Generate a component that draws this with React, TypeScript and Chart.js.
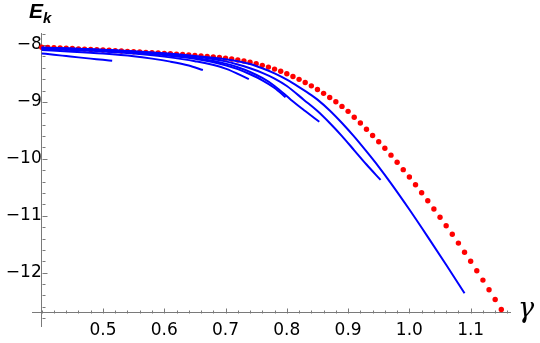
import { useEffect, useRef } from "react";
import { Chart, registerables } from "chart.js";

Chart.register(...registerables);

// Red dotted reference curve (gamma step 0.01)
const redGamma = [
  0.40, 0.41, 0.42, 0.43, 0.44, 0.45, 0.46, 0.47, 0.48, 0.49,
  0.50, 0.51, 0.52, 0.53, 0.54, 0.55, 0.56, 0.57, 0.58, 0.59,
  0.60, 0.61, 0.62, 0.63, 0.64, 0.65, 0.66, 0.67, 0.68, 0.69,
  0.70, 0.71, 0.72, 0.73, 0.74, 0.75, 0.76, 0.77, 0.78, 0.79,
  0.80, 0.81, 0.82, 0.83, 0.84, 0.85, 0.86, 0.87, 0.88, 0.89,
  0.90, 0.91, 0.92, 0.93, 0.94, 0.95, 0.96, 0.97, 0.98, 0.99,
  1.00, 1.01, 1.02, 1.03, 1.04, 1.05, 1.06, 1.07, 1.08, 1.09,
  1.10, 1.11, 1.12, 1.13, 1.14, 1.15,
];
const redEnergy = [
  -8.040, -8.044, -8.048, -8.053, -8.058, -8.063, -8.068, -8.073, -8.078, -8.083,
  -8.088, -8.094, -8.100, -8.106, -8.112, -8.118, -8.124, -8.130, -8.136, -8.142,
  -8.148, -8.154, -8.161, -8.168, -8.175, -8.183, -8.191, -8.200, -8.209, -8.220,
  -8.232, -8.247, -8.264, -8.283, -8.305, -8.330, -8.358, -8.389, -8.424, -8.463,
  -8.506, -8.553, -8.604, -8.659, -8.718, -8.782, -8.850, -8.922, -8.998, -9.079,
  -9.166, -9.270, -9.370, -9.480, -9.590, -9.700, -9.815, -9.935, -10.06, -10.19,
  -10.32, -10.455, -10.595, -10.735, -10.88, -11.025, -11.175, -11.325, -11.48, -11.64,
  -11.80, -11.965, -12.13, -12.30, -12.47, -12.645,
];

// Blue curves
const gammaA = [0.40, 0.42, 0.44, 0.46, 0.48, 0.50, 0.515];
const energyA = [-8.148, -8.172, -8.195, -8.218, -8.240, -8.261, -8.278];

const gammaB = [0.40, 0.45, 0.50, 0.55, 0.58, 0.61, 0.64, 0.663];
const energyB = [-8.09, -8.118, -8.152, -8.198, -8.240, -8.293, -8.362, -8.44];

const gammaC = [0.40, 0.45, 0.50, 0.55, 0.60, 0.65, 0.70, 0.738];
const energyC = [-8.07, -8.088, -8.113, -8.150, -8.205, -8.285, -8.415, -8.60];

const gammaD = [0.40, 0.45, 0.50, 0.55, 0.60, 0.65, 0.70, 0.72, 0.74, 0.76, 0.78, 0.798];
const energyD = [-8.062, -8.076, -8.098, -8.132, -8.178, -8.243, -8.355, -8.425, -8.515, -8.62, -8.755, -8.92];

const gammaE = [0.40, 0.45, 0.50, 0.55, 0.60, 0.65, 0.70, 0.72, 0.74, 0.76, 0.78, 0.807, 0.83, 0.853];
const energyE = [-8.055, -8.069, -8.09, -8.122, -8.163, -8.223, -8.328, -8.392, -8.475, -8.58, -8.72, -8.965, -9.16, -9.35];

const gammaF = [0.40, 0.45, 0.50, 0.55, 0.60, 0.65, 0.70, 0.72, 0.74, 0.76, 0.78, 0.80, 0.828, 0.85, 0.87, 0.89, 0.91, 0.93, 0.953];
const energyF = [-8.048, -8.062, -8.082, -8.11, -8.145, -8.198, -8.288, -8.343, -8.41, -8.49, -8.59, -8.72, -8.965, -9.16, -9.37, -9.60, -9.85, -10.10, -10.37];

const gammaG = [0.40, 0.45, 0.50, 0.55, 0.60, 0.65, 0.70, 0.72, 0.74, 0.76, 0.78, 0.80, 0.82, 0.84, 0.85, 0.87, 0.89, 0.91, 0.93, 0.95, 0.97, 1.00, 1.03, 1.06, 1.09];
const energyG = [-8.045, -8.065, -8.09, -8.12, -8.155, -8.195, -8.25, -8.285, -8.335, -8.41, -8.50, -8.61, -8.74, -8.88, -8.96, -9.15, -9.37, -9.61, -9.87, -10.14, -10.43, -10.89, -11.37, -11.86, -12.36];

// Axes / ticks
const xMajorTicks = [0.5, 0.6, 0.7, 0.8, 0.9, 1.0, 1.1];
const yMajorTicks = [-12, -11, -10, -9, -8];
const xMinorStep = 0.02;
const yMinorStep = 0.2;
const xRange = [0.385, 1.165];
const yRange = [-12.95, -7.79];
const axesOrigin = [0.4, -12.7];

const AXIS_COLOR = "#7a7a7a";
const TICK_FONT = { family: "DejaVu Sans", size: 17 };

const blueCurves = [
  [gammaA, energyA],
  [gammaB, energyB],
  [gammaC, energyC],
  [gammaD, energyD],
  [gammaE, energyE],
  [gammaF, energyF],
  [gammaG, energyG],
];

const zip = (xs: number[], ys: number[]) => xs.map((x, i) => ({ x, y: ys[i] }));

const tickPlugin = {
  id: "mmaTicks",
  beforeDatasetsDraw(chart: any) {
    const { ctx } = chart;
    const xs = chart.scales.x;
    const ys = chart.scales.y;
    const axisY = Math.round(ys.getPixelForValue(axesOrigin[1])) + 0.5;
    const axisX = Math.round(xs.getPixelForValue(axesOrigin[0])) + 0.5;
    ctx.save();
    ctx.strokeStyle = AXIS_COLOR;
    ctx.lineWidth = 1;
    ctx.beginPath();
    const nx = Math.round((xRange[1] - axesOrigin[0]) / xMinorStep);
    for (let i = 0; i <= nx; i++) {
      const v = axesOrigin[0] + i * xMinorStep;
      if (v > xRange[1]) break;
      const major = xMajorTicks.some((t) => Math.abs(t - v) < 1e-6);
      const px = Math.round(xs.getPixelForValue(v)) + 0.5;
      const len = major ? 5 : 3;
      ctx.moveTo(px, axisY);
      ctx.lineTo(px, axisY - len);
    }
    const ny = Math.round((yRange[1] - yRange[0]) / yMinorStep) + 2;
    for (let i = 0; i <= ny; i++) {
      const v = -12.8 + i * yMinorStep;
      if (v > yRange[1]) break;
      const major = yMajorTicks.some((t) => Math.abs(t - v) < 1e-6);
      const py = Math.round(ys.getPixelForValue(v)) + 0.5;
      const len = major ? 5 : 3;
      ctx.moveTo(axisX, py);
      ctx.lineTo(axisX + len, py);
    }
    ctx.stroke();
    ctx.restore();
  },
  afterDraw(chart: any) {
    const { ctx } = chart;
    ctx.save();
    ctx.fillStyle = "#000";
    ctx.textBaseline = "alphabetic";
    ctx.textAlign = "left";
    ctx.font = 'bold italic 21px "Liberation Sans"';
    ctx.fillText("E", 29, 18);
    ctx.font = 'bold italic 15px "Liberation Sans"';
    ctx.fillText("k", 43, 23);
    ctx.font = 'italic 27px "DejaVu Serif"';
    ctx.fillText("γ", 518, 317);
    ctx.restore();
  },
};

export default function App() {
  const ref = useRef<HTMLCanvasElement | null>(null);
  useEffect(() => {
    const canvas = ref.current;
    if (!canvas) return;
    const datasets: any[] = blueCurves.map(([g, e]) => ({
      type: "scatter",
      data: zip(g, e),
      showLine: true,
      borderColor: "#0000ff",
      backgroundColor: "#0000ff",
      borderWidth: 2,
      pointRadius: 0,
      cubicInterpolationMode: "monotone",
      clip: false,
      order: 0,
    }));
    datasets.push({
      type: "scatter",
      data: zip(redGamma, redEnergy),
      showLine: false,
      pointRadius: 2.7,
      pointBorderWidth: 0,
      backgroundColor: "#ff0000",
      borderColor: "#ff0000",
      clip: false,
      order: 1,
    });
    const chart = new Chart(canvas, {
      type: "scatter",
      data: { datasets },
      options: {
        animation: false,
        responsive: false,
        events: [],
        layout: { padding: { left: 32.5, right: 29.5, top: 33, bottom: 16 } },
        plugins: { legend: { display: false }, tooltip: { enabled: false } },
        scales: {
          x: {
            type: "linear",
            min: xRange[0],
            max: xRange[1],
            position: { y: axesOrigin[1] } as any,
            grid: { drawOnChartArea: false, drawTicks: false },
            border: { display: true, color: AXIS_COLOR, width: 1 },
            ticks: {
              stepSize: 0.1,
              includeBounds: false,
              autoSkip: false,
              maxRotation: 0,
              padding: 8,
              color: "#000",
              font: TICK_FONT,
              callback: (v: any) => {
                const n = Number(v);
                if (!xMajorTicks.some((t) => Math.abs(t - n) < 1e-6)) return "";
                return n.toFixed(1);
              },
            },
          },
          y: {
            type: "linear",
            min: yRange[0],
            max: yRange[1],
            position: { x: axesOrigin[0] } as any,
            grid: { drawOnChartArea: false, drawTicks: false },
            border: { display: true, color: AXIS_COLOR, width: 1 },
            ticks: {
              stepSize: 1,
              includeBounds: false,
              autoSkip: false,
              padding: 6,
              color: "#000",
              font: TICK_FONT,
              callback: (v: any) => {
                const n = Number(v);
                if (!yMajorTicks.some((t) => Math.abs(t - n) < 1e-6)) return "";
                return "\u2212" + Math.abs(n).toFixed(0);
              },
            },
          },
        },
      },
      plugins: [tickPlugin],
    });
    return () => chart.destroy();
  }, []);
  return (
    <div style={{ position: "absolute", left: 0, top: 0, width: 540, height: 343 }}>
      <canvas ref={ref} width={540} height={343} />
    </div>
  );
}
